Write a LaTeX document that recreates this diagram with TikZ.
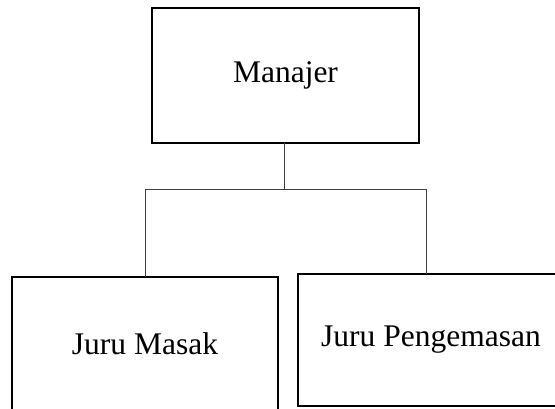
\documentclass[tikz,border=0pt]{standalone}
\usepackage{fontspec}
\setmainfont{Liberation Serif}
\usetikzlibrary{calc}
\tikzset{
  unit/.style  = {draw=black, line width=1.3pt, inner sep=0pt, outer sep=0pt,
                  align=center, font=\fontsize{31.5}{36}\selectfont},
  conn/.style  = {black!75, line width=0.8pt}
}

\begin{document}
\begin{tikzpicture}[x=1pt, y=-1pt]
    \useasboundingbox (0,0) rectangle (555,408);
    \begin{scope}
    \clip (0,0) rectangle (555,408);
    \node[unit, minimum width=267pt, minimum height=135pt] (mgr)  at (285.5, 75.5) {Manajer};
    \node[unit, minimum width=266pt, minimum height=133pt] (cook) at (145, 343.5)  {Juru Masak};
    \node[unit, minimum width=266pt, minimum height=132pt] (pack) at (431, 340)    {Juru Pengemasan};

    \coordinate (split) at ($(mgr.south)+(-1.5,46.5)$);
    \coordinate (dropR) at ($(pack.north)+(-5,0)$);

    \draw[conn](mgr.south -| split)--(split);
    \draw[conn](cook.north)|-(split)-|(dropR);
    \end{scope}
  \end{tikzpicture}
\end{document}
